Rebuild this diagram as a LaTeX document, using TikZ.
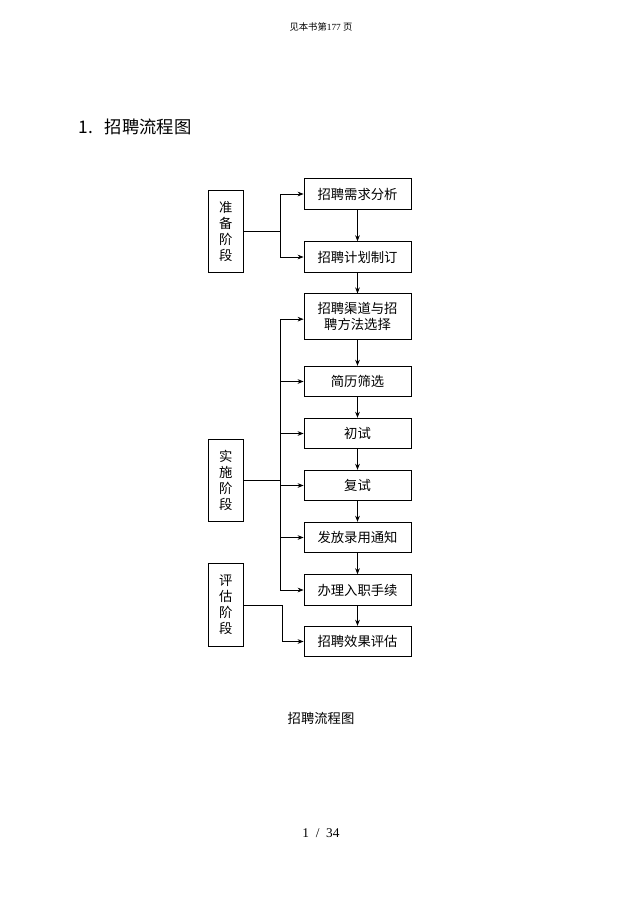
\documentclass[tikz,border=0pt]{standalone}
\usepackage{fontspec}
\setmainfont{Liberation Serif}
\newfontfamily\cjk{Noto Sans CJK SC}
\usetikzlibrary{arrows.meta}
\begin{document}
\begin{tikzpicture}[x=0.75pt,y=-0.75pt,
  line width=0.6pt,
  arr/.style={-{Stealth[length=4.5pt,width=3.5pt]}},
  stepbox/.style={draw,inner sep=0pt,minimum width=80.25pt,minimum height=23pt,align=center,font=\cjk\fontsize{10pt}{12.5pt}\selectfont},
  phasebox/.style={draw,inner sep=0pt,minimum width=26.25pt,minimum height=62pt,align=center,font=\cjk\fontsize{10pt}{12pt}\selectfont},
  txt/.style={inner sep=0pt}]
\useasboundingbox (0,0) rectangle (642,907);
% texts
\node[txt] (hdr) at (321,27) {\fontsize{7pt}{8pt}\selectfont{\cjk 见本书第}177 {\cjk 页}};
\node[txt,anchor=west,font=\cjk\fontsize{13pt}{15pt}\selectfont] (title) at (78,127) {1.\hspace{9pt}招聘流程图};
\node[txt,font=\cjk\fontsize{10pt}{12pt}\selectfont] (cap) at (321,718) {招聘流程图};
\node[txt,font=\fontsize{10pt}{12pt}\selectfont] (foot) at (321,833) {1 \ / \ 34};
% step boxes
\node[stepbox] (b1) at (357.5,194) {招聘需求分析};
\node[stepbox] (b2) at (357.5,257) {招聘计划制订};
\node[stepbox,minimum height=34pt] (b3) at (357.5,316.5) {招聘渠道与招\\聘方法选择};
\node[stepbox] (b4) at (357.5,381.5) {简历筛选};
\node[stepbox] (b5) at (357.5,433.5) {初试};
\node[stepbox] (b6) at (357.5,485.5) {复试};
\node[stepbox] (b7) at (357.5,537.5) {发放录用通知};
\node[stepbox] (b8) at (357.5,590) {办理入职手续};
\node[stepbox] (b9) at (357.5,641.5) {招聘效果评估};
% phase boxes
\node[phasebox] (p1) at (225.75,231.5) {准\\备\\阶\\段};
\node[phasebox] (p2) at (225.75,480.5) {实\\施\\阶\\段};
\node[phasebox] (p3) at (225.75,605) {评\\估\\阶\\段};
% vertical flow
\foreach \a/\b in {b1/b2,b2/b3,b3/b4,b4/b5,b5/b6,b6/b7,b7/b8,b8/b9}
  \draw[arr] (\a) -- (\b);
% phase connectors
\coordinate (j1) at (280,231.5);
\draw (p1.east) -- (j1);
\draw[arr] (j1) |- (b1.west);
\draw[arr] (j1) |- (b2.west);
\coordinate (j2) at (280,480.5);
\draw (p2.east) -- (j2);
\draw[arr] (j2) |- ([yshift=-2pt]b3.west);
\foreach \b in {b4,b5,b6,b7,b8}
  \draw[arr] (j2) |- (\b.west);
\coordinate (j3) at (282,605);
\draw[arr] (p3.east) -- (j3) |- (b9.west);
\end{tikzpicture}
\end{document}
